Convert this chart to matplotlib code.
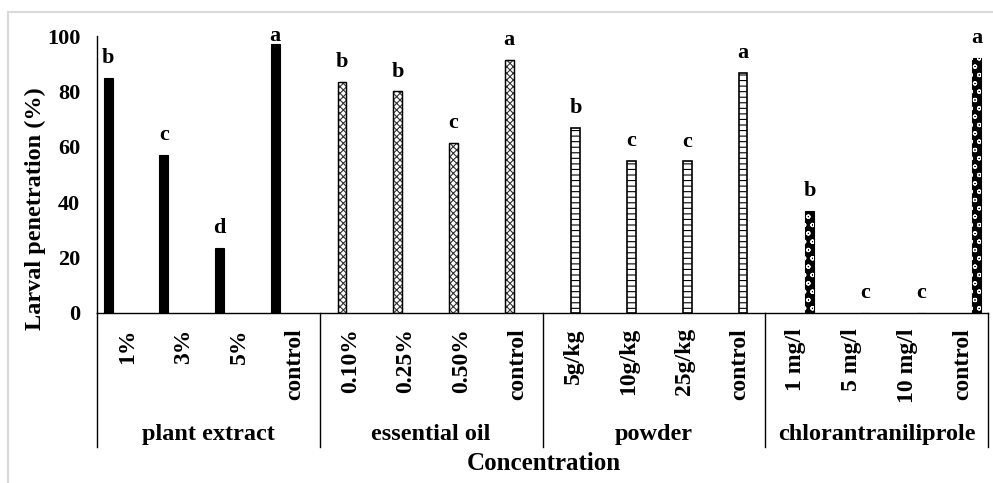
import numpy as np
import matplotlib.pyplot as plt
from matplotlib.lines import Line2D

plt.rcParams['font.family'] = ['Liberation Serif', 'DejaVu Serif']
plt.rcParams['font.weight'] = 'bold'
plt.rcParams['hatch.linewidth'] = 0.8

groups = ['plant extract', 'essential oil', 'powder', 'chlorantraniliprole']
concentrations = [['1%', '3%', '5%', 'control'],
                  ['0.10%', '0.25%', '0.50%', 'control'],
                  ['5g/kg', '10g/kg', '25g/kg', 'control'],
                  ['1 mg/l', '5 mg/l', '10 mg/l', 'control']]
plant_extract = [85, 57, 23.5, 97]
essential_oil = [83.5, 80, 61.5, 91.5]
powder = [66.8, 55, 54.7, 86.8]
chlorantraniliprole = [36.8, 0, 0, 92]
letters = [['b', 'c', 'd', 'a'],
           ['b', 'b', 'c', 'a'],
           ['b', 'c', 'c', 'a'],
           ['b', 'c', 'c', 'a']]

series = [plant_extract, essential_oil, powder, chlorantraniliprole]

fig = plt.figure(figsize=(9.93, 4.83), dpi=100)
ax = fig.add_axes([97/993, 1 - 313/483, (988-97)/993, (313-36)/483])

slot = 0.2
width = 0.16
for g, vals in enumerate(series):
    x = np.arange(4) + 4*g + (g - 1.5)*slot
    if g == 0:
        ax.bar(x, vals, width, color='black', edgecolor='black', lw=0.8)
    elif g == 1:
        ax.bar(x, vals, width, color='white', edgecolor='#333333', hatch='xxxxx', lw=0.8)
        ax.bar(x, vals, width, color='none', edgecolor='black', lw=1.0)
    elif g == 2:
        ax.bar(x, vals, width, color='white', edgecolor='black', hatch='---', lw=1.2)
    else:
        ax.bar(x, vals, width, color='black', edgecolor='black', lw=0.8)
        ax.bar(x, vals, width, color='none', edgecolor='white', hatch='oo', lw=0)
    for xi, v, lab in zip(x, vals, letters[g]):
        # labels near the top get pushed down like in Excel
        ax.annotate(lab, (xi, min(v, 93)), xytext=(0, 7), textcoords='offset points',
                    ha='center', va='bottom', fontsize=16, fontweight='bold')

ax.set_xlim(-0.5, 15.5)
ax.set_ylim(0, 100)
ax.set_yticks([0, 20, 40, 60, 80, 100])
ax.tick_params(axis='y', length=0, pad=12, labelsize=16)
ax.set_xticks([])
for s in ['top', 'right']:
    ax.spines[s].set_visible(False)
ax.spines['left'].set_linewidth(1.0)
ax.spines['bottom'].set_linewidth(1.0)

tr = ax.get_xaxis_transform()
for g in range(4):
    for i, lab in enumerate(concentrations[g]):
        ax.text(4*g + i + 0.05, -0.055, lab, transform=tr, rotation=90, rotation_mode='anchor',
                ha='right', va='center', fontsize=17, fontweight='bold')
    ax.text(4*g + 1.5, -0.44, groups[g], transform=tr, ha='center', va='center',
            fontsize=17.5, fontweight='bold')
for xs in [-0.5, 3.5, 7.5, 11.5, 15.5]:
    ax.add_line(Line2D([xs, xs], [0, -0.484], transform=tr, color='black', lw=1.0, clip_on=False))

fig.text(544/993, 1 - 463/483, 'Concentration', ha='center', va='center', fontsize=18, fontweight='bold')
fig.text(35/993, 1 - 209/483, 'Larval penetration (%)', rotation=90, ha='center', va='center',
         fontsize=17.5, fontweight='bold')

# outer frame of the embedded chart
fig.add_artist(Line2D([8/993, 1], [1 - 12/483, 1 - 12/483], transform=fig.transFigure, color='#d9d9d9', lw=1.5))
fig.add_artist(Line2D([8/993, 8/993], [0, 1 - 12/483], transform=fig.transFigure, color='#d9d9d9', lw=1.5))

fig.savefig('out.png', dpi=100)
